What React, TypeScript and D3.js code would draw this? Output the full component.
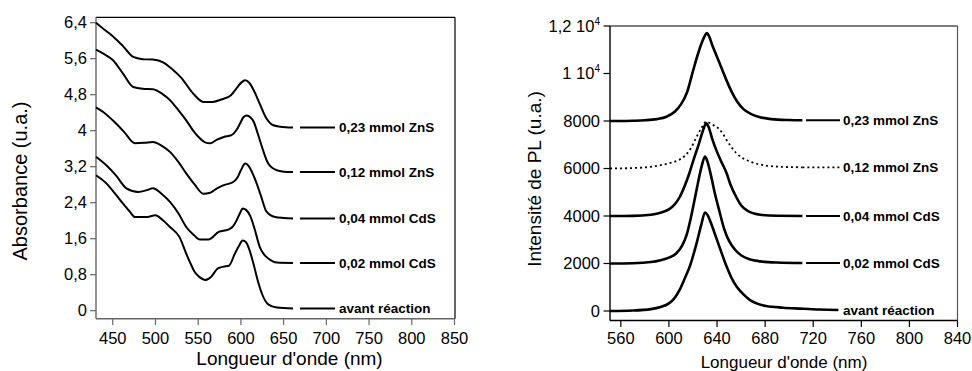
import React from 'react';
import * as d3 from 'd3';

// ---------- Left chart: absorbance ----------
const absYTicks = [0, 0.8, 1.6, 2.4, 3.2, 4, 4.8, 5.6, 6.4];
const absYTickLabels = ['0', '0,8', '1,6', '2,4', '3,2', '4', '4,8', '5,6', '6,4'];
const absXTicks = [450, 500, 550, 600, 650, 700, 750, 800, 850];
const absSeriesNames = ['0,23 mmol ZnS', '0,12 mmol ZnS', '0,04 mmol CdS', '0,02 mmol CdS', 'avant réaction'];

const abs023: [number, number][] = [[430.4,6.40],[440,6.25],[450,6.10],[462,5.88],[474,5.64],[485,5.59],[497,5.58],[509,5.52],[520,5.36],[530,5.18],[544,4.83],[556,4.64],[567,4.64],[578,4.70],[588,4.78],[596,4.97],[601,5.08],[605,5.12],[610,5.06],[615,4.90],[622,4.60],[630,4.27],[638,4.12],[646,4.09],[661,4.07]];
const abs012: [number, number][] = [[430.4,5.80],[440,5.70],[450,5.57],[462,5.27],[474,4.97],[485,4.93],[497,4.92],[508,4.82],[517,4.68],[527,4.45],[536,4.23],[545,3.98],[552,3.83],[558,3.74],[564,3.72],[572,3.80],[580,3.86],[589,3.90],[595,4.02],[599,4.16],[603,4.30],[607,4.34],[611,4.30],[615,4.20],[620,3.92],[625,3.62],[632,3.27],[642,3.12],[650,3.09],[661,3.08]];
const abs004: [number, number][] = [[430.4,4.52],[440,4.40],[450,4.23],[463,3.98],[476,3.72],[487,3.73],[497,3.75],[507,3.67],[517,3.53],[527,3.30],[536,3.05],[546,2.80],[556,2.60],[564,2.62],[572,2.72],[580,2.79],[591,2.86],[596,2.96],[600,3.12],[605,3.27],[609,3.22],[613,3.08],[618,2.85],[623,2.58],[630,2.20],[640,2.08],[650,2.06],[661,2.05]];
const abs002: [number, number][] = [[430.4,3.42],[442.5,3.23],[454,3.00],[466,2.72],[480,2.64],[490,2.68],[497,2.72],[507,2.60],[517,2.42],[527,2.16],[536,1.86],[545,1.68],[552,1.58],[562,1.58],[574,1.75],[585,1.80],[591,1.88],[595,2.01],[599,2.17],[602,2.27],[606,2.24],[611,2.10],[616,1.82],[622,1.42],[627,1.25],[632,1.16],[642,1.07],[661,1.06]];
const absAvant: [number, number][] = [[430.4,3.01],[442.5,2.83],[452,2.62],[462,2.38],[470,2.20],[476,2.08],[489,2.08],[500,2.12],[508,2.02],[517,1.86],[528,1.64],[536,1.27],[541,1.05],[546,0.86],[552,0.74],[558,0.68],[565,0.75],[573,0.94],[580,0.98],[586,1.00],[593,1.27],[598,1.45],[602,1.56],[606,1.52],[610,1.35],[615,1.02],[620,0.65],[625,0.36],[632,0.14],[642,0.07],[661,0.05]];

// ---------- Right chart: photoluminescence ----------
const plYTicks = [0, 2000, 4000, 6000, 8000, 10000, 12000];
const plYTickLabels: [string, string][] = [['0',''],['2000',''],['4000',''],['6000',''],['8000',''],['1 10','4'],['1,2 10','4']];
const plXTicks = [560, 600, 640, 680, 720, 760, 800, 840];
const plSeriesNames = ['0,23 mmol ZnS', '0,12 mmol ZnS', '0,04 mmol CdS', '0,02 mmol CdS', 'avant réaction'];

const pl023: [number, number][] = [[551,8000],[560,8000],[570,8010],[580,8030],[590,8080],[598,8180],[605,8400],[610,8700],[615,9200],[620,10100],[624,10800],[627,11250],[629.5,11550],[631.5,11700],[633.5,11550],[636,11200],[640,10700],[644,10200],[648,9700],[652,9250],[657,8800],[662,8500],[668,8300],[675,8170],[685,8080],[700,8040],[711,8030]];
const pl012: [number, number][] = [[551,6000],[570,6020],[585,6070],[593,6140],[600,6220],[609,6380],[614,6570],[618,6830],[623,7330],[627,7700],[631,7970],[636,7850],[641,7700],[645,7450],[648,7200],[652,6900],[656,6650],[661,6450],[667,6300],[673,6200],[680,6130],[690,6080],[700,6060],[711,6050]];
const pl004: [number, number][] = [[551,4000],[570,4005],[585,4050],[593,4140],[600,4280],[605,4500],[609,4800],[613,5250],[617,5800],[621,6450],[625,7050],[628,7550],[631,7900],[633,7750],[636,7250],[640,6700],[643,6350],[648,5800],[651,5350],[656,4800],[660,4450],[666,4200],[676,4050],[690,4010],[711,4000]];
const pl002: [number, number][] = [[551,2000],[570,2010],[585,2060],[593,2140],[600,2250],[606,2420],[611,2750],[615,3250],[619,4100],[623,5100],[627,6050],[630,6500],[632,6300],[635,5700],[638,5000],[642,4200],[646,3450],[650,2950],[655,2580],[660,2350],[667,2180],[676,2090],[690,2040],[711,2020]];
const plAvant: [number, number][] = [[551,0],[570,20],[585,80],[593,170],[600,320],[604,500],[609,900],[613,1350],[617.5,1900],[623,2850],[627,3650],[630,4150],[632,4050],[634,3830],[637.5,3350],[641,2850],[648,1870],[652,1400],[656.4,1020],[662,700],[667.5,460],[674,300],[681,210],[695,140],[709,100],[725,60],[741,40]];

const FONT = 'Arial, "Liberation Sans", Helvetica, sans-serif';

export default function App() {
  // left scales
  const xA = d3.scaleLinear().domain([430.4, 850.6]).range([96, 455]);
  const yA = d3.scaleLinear().domain([-0.18, 6.52]).range([318.8, 17.3]);
  // right scales
  const xP = d3.scaleLinear().domain([551, 840]).range([610, 957.5]);
  const yP = d3.scaleLinear().domain([-400, 12000]).range([320.5, 26]);

  const lineA = d3.line<[number, number]>().x(d => xA(d[0])).y(d => yA(d[1])).curve(d3.curveMonotoneX);
  const lineP = d3.line<[number, number]>().x(d => xP(d[0])).y(d => yP(d[1])).curve(d3.curveMonotoneX);

  const absSeries = [abs023, abs012, abs004, abs002, absAvant];
  const plSeries = [pl023, pl012, pl004, pl002, plAvant];

  const lblStyle = { fontFamily: FONT, fontWeight: 700 as const, fontSize: 13.5 };

  return (
    <svg width={972} height={371} style={{ position: 'absolute', left: 0, top: 0, background: '#fff' }}>
      <rect x={0} y={0} width={972} height={371} fill="#fff" />
      {/* ===== Left chart ===== */}
      <g>
        <line x1={96} y1={17.3} x2={455} y2={17.3} stroke="#000" strokeWidth={1.2} />
        <line x1={455} y1={17.3} x2={455} y2={318.8} stroke="#000" strokeWidth={1.2} />
        <line x1={96} y1={17.3} x2={96} y2={318.8} stroke="#666" strokeWidth={1.4} />
        <line x1={96} y1={318.8} x2={455} y2={318.8} stroke="#666" strokeWidth={1.4} />
        {absYTicks.map((t, i) => (
          <g key={'ay' + i}>
            <line x1={90} x2={96} y1={yA(t)} y2={yA(t)} stroke="#666" strokeWidth={1.2} />
            <text x={87} y={yA(t)} dy="0.35em" textAnchor="end" fontFamily={FONT} fontSize={16.5}>{absYTickLabels[i]}</text>
          </g>
        ))}
        {absXTicks.map((t, i) => (
          <g key={'ax' + i}>
            <line x1={xA(t)} x2={xA(t)} y1={318.8} y2={325} stroke="#666" strokeWidth={1.2} />
            <text x={xA(t)} y={344} textAnchor="middle" fontFamily={FONT} fontSize={16.5}>{t}</text>
          </g>
        ))}
        <text x={289.5} y={365} textAnchor="middle" fontFamily={FONT} fontSize={19}>Longueur d'onde (nm)</text>
        <text transform="translate(26.5,181) rotate(-90)" textAnchor="middle" fontFamily={FONT} fontSize={20}>Absorbance (u.a.)</text>
        {absSeries.map((s, i) => {
          const ly = yA(s[s.length - 1][1]);
          return (
            <g key={'as' + i}>
              <path d={lineA(s) || ''} fill="none" stroke="#000" strokeWidth={2} />
              <line x1={300} x2={335} y1={ly} y2={ly} stroke="#000" strokeWidth={2} />
              <text x={339} y={ly} dy="0.35em" {...lblStyle}>{absSeriesNames[i]}</text>
            </g>
          );
        })}
      </g>
      {/* ===== Right chart ===== */}
      <g>
        <line x1={610} y1={26} x2={957.5} y2={26} stroke="#000" strokeWidth={1.2} />
        <line x1={957.5} y1={26} x2={957.5} y2={320.5} stroke="#555" strokeWidth={1.2} />
        <line x1={610} y1={26} x2={610} y2={320.5} stroke="#000" strokeWidth={1.4} />
        <line x1={610} y1={320.5} x2={957.5} y2={320.5} stroke="#000" strokeWidth={1.4} />
        {plYTicks.map((t, i) => (
          <g key={'py' + i}>
            <line x1={603.5} x2={610} y1={yP(t)} y2={yP(t)} stroke="#000" strokeWidth={1.2} />
            <text x={600} y={yP(t)} dy="0.35em" textAnchor="end" fontFamily={FONT} fontSize={16.5}>
              {plYTickLabels[i][0]}
              {plYTickLabels[i][1] ? <tspan fontSize={10} dy={-7}>{plYTickLabels[i][1]}</tspan> : null}
            </text>
          </g>
        ))}
        {plXTicks.map((t, i) => (
          <g key={'px' + i}>
            <line x1={xP(t)} x2={xP(t)} y1={320.5} y2={327} stroke="#000" strokeWidth={1.2} />
            <text x={xP(t)} y={344} textAnchor="middle" fontFamily={FONT} fontSize={16.5}>{t}</text>
          </g>
        ))}
        <text x={784} y={367.5} textAnchor="middle" fontFamily={FONT} fontSize={17}>Longueur d'onde (nm)</text>
        <text transform="translate(541,179) rotate(-90)" textAnchor="middle" fontFamily={FONT} fontSize={19}>Intensité de PL (u.a.)</text>
        {plSeries.map((s, i) => {
          const ly = yP(s[s.length - 1][1]);
          const dotted = i === 1;
          const last = xP(s[s.length - 1][0]);
          return (
            <g key={'ps' + i}>
              <path d={lineP(s) || ''} fill="none" stroke="#000" strokeWidth={dotted ? 1.8 : 2.6}
                strokeDasharray={dotted ? '2 3' : undefined} strokeLinejoin="round" />
              {last < 835 ? (
                <line x1={dotted ? last : 806} x2={840} y1={ly} y2={ly} stroke="#000" strokeWidth={dotted ? 1.8 : 2}
                  strokeDasharray={dotted ? '2 3' : undefined} />
              ) : null}
              <text x={843} y={ly} dy="0.35em" {...lblStyle}>{plSeriesNames[i]}</text>
            </g>
          );
        })}
      </g>
    </svg>
  );
}
